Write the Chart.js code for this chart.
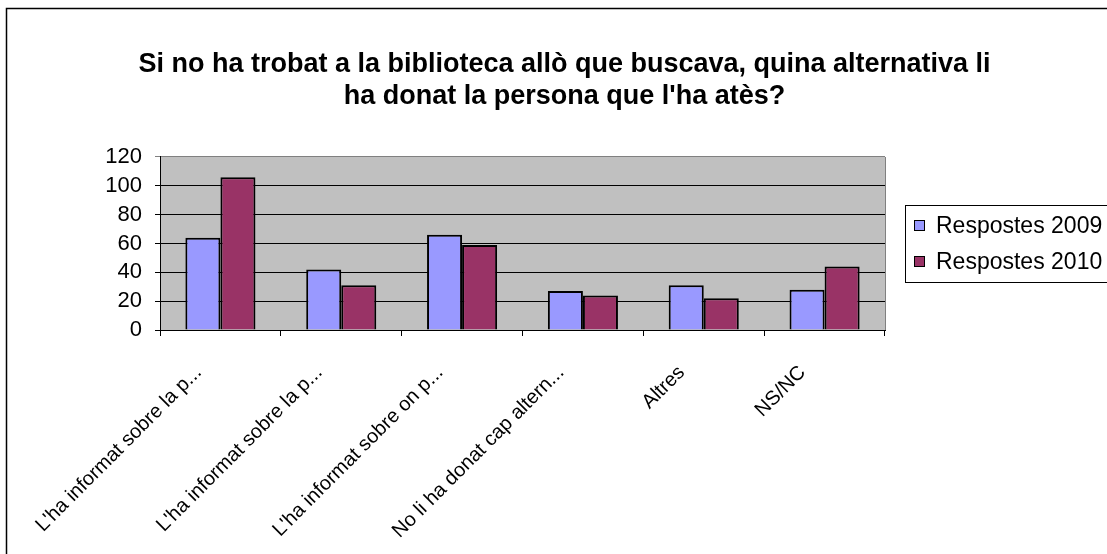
<!DOCTYPE html>
<html>
<head>
<meta charset="utf-8">
<script src="https://cdn.jsdelivr.net/npm/chart.js@4.4.1/dist/chart.umd.min.js"></script>
<style>
  html, body { margin: 0; padding: 0; background: #fff; }
  #wrap { width: 1107px; height: 554px; position: relative; }
</style>
</head>
<body>
<div id="wrap"><canvas id="grafic"></canvas></div>
<script>
// categories (truncated as in the original sheet)
var categories = [
    "L'ha informat sobre la p...",
    "L'ha informat sobre la p...",
    "L'ha informat sobre on p...",
    "No li ha donat cap altern...",
    "Altres",
    "NS/NC"
]
var series2009 = [64, 42, 66, 27, 31, 28]
var series2010 = [106, 31, 59, 24, 22, 44]
var seriesNames = ['Respostes 2009', 'Respostes 2010']
var yTicks = [0, 20, 40, 60, 80, 100, 120]
var titleLines = [
    'Si no ha trobat a la biblioteca allò que buscava, quina alternativa li',
    'ha donat la persona que l\'ha atès?'
]

var fontName = 'Arial, "Liberation Sans", sans-serif'

// plot background, frame and legend box
var excelLook = {
    id: 'excelLook',
    beforeDraw: function (chart) {
        var ctx = chart.ctx
        var a = chart.chartArea
        ctx.save()
        ctx.fillStyle = '#fff'
        ctx.fillRect(0, 0, chart.width, chart.height)
        ctx.strokeStyle = '#000'
        ctx.lineWidth = 1.5
        ctx.strokeRect(6.5, 8.5, 1300, 1000)
        ctx.fillStyle = '#c0c0c0'
        ctx.fillRect(a.left, a.top, a.right - a.left, a.bottom - a.top)
        ctx.restore()
    },
    afterDraw: function (chart) {
        var ctx = chart.ctx
        var a = chart.chartArea
        ctx.save()
        // right edge of plot
        ctx.strokeStyle = '#808080'
        ctx.lineWidth = 1
        ctx.beginPath()
        ctx.moveTo(a.right + 0.5, a.top)
        ctx.lineTo(a.right + 0.5, a.bottom)
        ctx.stroke()

        // legend
        var lx = 905, ly = 205
        ctx.fillStyle = '#fff'
        ctx.fillRect(lx, ly, 260, 77)
        ctx.strokeStyle = '#000'
        ctx.lineWidth = 1
        ctx.strokeRect(lx + 0.5, ly + 0.5, 260, 77)
        ctx.font = '23px ' + fontName
        ctx.textBaseline = 'middle'
        chart.data.datasets.forEach(function (ds, i) {
            var cy = ly + 21 + i * 36
            ctx.fillStyle = ds.backgroundColor
            ctx.fillRect(lx + 9.5, cy - 5.5, 10, 10)
            ctx.strokeStyle = '#000'
            ctx.strokeRect(lx + 9.5, cy - 5.5, 10, 10)
            ctx.fillStyle = '#000'
            ctx.fillText(ds.label, lx + 31, cy + 1)
        })
        ctx.restore()
    }
}

var grafic = new Chart(document.getElementById('grafic'), {
    type: 'bar',
    data: {
        labels: categories,
        datasets: [{
            label: seriesNames[0],
            data: series2009,
            backgroundColor: '#9999ff',
            borderColor: '#000',
            borderWidth: 2
        }, {
            label: seriesNames[1],
            data: series2010,
            backgroundColor: '#993366',
            borderColor: '#000',
            borderWidth: 2
        }]
    },
    options: {
        responsive: true,
        maintainAspectRatio: false,
        animation: false,
        datasets: {
            bar: { categoryPercentage: 0.58, barPercentage: 1 }
        },
        layout: { padding: { left: 22, right: 0, top: 0, bottom: 0 } },
        plugins: {
            legend: { display: false },
            tooltip: { enabled: false },
            title: {
                display: true,
                text: titleLines,
                color: '#000',
                font: { family: fontName, size: 27, weight: 'bold', lineHeight: 1.185 },
                padding: { top: 49, bottom: 44 }
            }
        },
        scales: {
            x: {
                grid: { offset: true, drawOnChartArea: false, color: '#000', tickLength: 6 },
                border: { color: '#000', width: 1 },
                ticks: {
                    autoSkip: false,
                    maxRotation: 45,
                    minRotation: 45,
                    color: '#000',
                    padding: 25,
                    labelOffset: -22,
                    font: { family: fontName, size: 20 }
                },
                afterFit: function (s) { s.height = 224 }
            },
            y: {
                min: 0,
                max: 120,
                afterBuildTicks: function (s) {
                    s.ticks = yTicks.map(function (v) { return { value: v } })
                },
                grid: {
                    color: function (c) { return c.tick && c.tick.value === 120 ? '#808080' : '#000' },
                    tickLength: 5
                },
                border: { color: '#000', width: 1 },
                ticks: {
                    autoSkip: false,
                    color: '#000',
                    padding: 13,
                    font: { family: fontName, size: 22 }
                },
                afterFit: function (s) { s.width = 138 }
            },
            // empty space that the legend sits in
            espai: {
                position: 'right',
                display: true,
                grid: { display: false },
                border: { display: false },
                ticks: { display: false },
                afterFit: function (s) { s.width = 222 }
            }
        }
    },
    plugins: [excelLook]
})
</script>
</body>
</html>
